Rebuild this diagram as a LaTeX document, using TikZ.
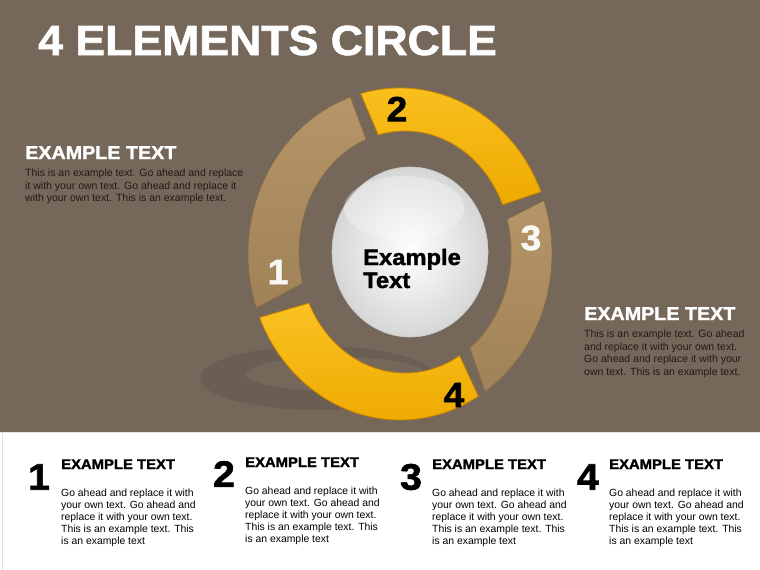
\documentclass[tikz,border=0pt]{standalone}
\usepackage{fontspec}
\setmainfont{Liberation Sans}
\newfontfamily\heavyfont[FakeBold=1.6, FakeStretch=1.06]{Liberation Sans Bold}
\usetikzlibrary{positioning,calc}

\definecolor{bgbrown}{RGB}{117,103,90}
\definecolor{txtdark}{RGB}{33,27,22}
\definecolor{tanbase}{RGB}{160,130,88}
\definecolor{tanlight}{RGB}{182,150,104}
\definecolor{tanedge}{RGB}{135,108,72}
\definecolor{goldbase}{RGB}{238,170,0}
\definecolor{goldlight}{RGB}{250,194,34}
\definecolor{goldedge}{RGB}{196,132,0}
\definecolor{panelline}{RGB}{232,226,214}

\begin{document}
\begin{tikzpicture}[x=1pt, y=-1pt,
	tanseg/.style = {top color=tanlight, bottom color=tanbase, draw=tanedge, line width=0.8pt},
	goldseg/.style = {top color=goldlight, bottom color=goldbase, draw=goldedge, line width=0.8pt},
	title/.style = {inner sep=0, text=white, font=\fontsize{42.1}{48}\heavyfont},
	headw/.style = {inner sep=0, text=white, font=\fontsize{18.6}{20}\heavyfont},
	dbody/.style = {inner sep=0, align=left, text=txtdark, font=\fontsize{10.5}{12.5}\selectfont},
	rnum/.style = {inner sep=0, font=\fontsize{35}{36}\heavyfont},
	ctext/.style = {inner sep=0, text=black, font=\fontsize{22.4}{23}\heavyfont},
	bnum/.style = {inner sep=0, text=black, font=\fontsize{37}{38}\heavyfont},
	bhead/.style = {inner sep=0, text=black, font=\fontsize{14}{15}\heavyfont},
	bbody/.style = {inner sep=0, align=left, text=black, font=\fontsize{10.4}{12}\selectfont}]

	\useasboundingbox (0,0) rectangle (760,570);
	\fill[bgbrown] (0,0) rectangle (760,432);
	\fill[white] (0,432) rectangle (760,570);
	\draw[panelline, line width=1.5pt] (0,432.5) -- (760,432.5);
	\draw[black!12, line width=1pt] (2,433) -- (2,570);

	\node[title, anchor=base west] (ttl) at (38,55) {4 ELEMENTS CIRCLE};

	% shadow of the ring
	\fill[black, opacity=0.09, even odd rule] (318,378) ellipse[x radius=118, y radius=32]
		(336,374) ellipse[x radius=90, y radius=17];

	% ring
	\coordinate (oc) at (400,254);
	\coordinate (ic) at (405,252);
	\draw[tanseg] ($(oc)+(-109:152 and 166)$) arc[start angle=-109, end angle=-199, x radius=152, y radius=166]
		-- ($(ic)+(-195:106 and 121)$) arc[start angle=-195, end angle=-111.5, x radius=106, y radius=121] -- cycle;
	\draw[goldseg] ($(oc)+(-105:152 and 166)$) arc[start angle=-105, end angle=-22, x radius=152, y radius=166]
		-- ($(ic)+(-23:106 and 121)$) arc[start angle=-23, end angle=-104.6, x radius=106, y radius=121] -- cycle;
	\draw[tanseg] ($(oc)+(-18.8:152 and 166)$) arc[start angle=-18.8, end angle=56, x radius=152, y radius=166]
		-- ($(ic)+(52.4:106 and 121)$) arc[start angle=52.4, end angle=-15.7, x radius=106, y radius=121] -- cycle;
	\draw[goldseg] ($(oc)+(-202.5:152 and 166)$) arc[start angle=-202.5, end angle=-301, x radius=152, y radius=166]
		-- ($(ic)+(-301:106 and 121)$) arc[start angle=-301, end angle=-205, x radius=106, y radius=121] -- cycle;

	% centre ball
	\shade[inner color=white, outer color=black!16] (410,252) ellipse[x radius=78, y radius=85];
	\draw[black!22, line width=0.6pt] (410,252) ellipse[x radius=78, y radius=85];
	\fill[white, opacity=0.3] (404,208) ellipse[x radius=60, y radius=32];
	\node[ctext, anchor=base west] (ex1) at (363,265) {Example};
	\node[ctext, below=23pt of ex1.base west, anchor=base west] (ex2) {Text};

	\node[rnum, text=white!92!tanlight] (r1) at (278,272) {1};
	\node[rnum, text=black] (r2) at (397,109) {2};
	\node[rnum, text=white!92!tanlight] (r3) at (531,238) {3};
	\node[rnum, text=black] (r4) at (454,395) {4};

	% side texts
	\node[headw, anchor=base west] (lhead) at (25,159) {EXAMPLE TEXT};
	\node[dbody, below=10pt of lhead.base west, anchor=north west] (lbody)
		{This is an example text. Go ahead and replace\\it with your own text. Go ahead and replace it\\with your own text. This is an example text.};
	\node[headw, anchor=base west] (rhead) at (584,320) {EXAMPLE TEXT};
	\node[dbody, below=10pt of rhead.base west, anchor=north west] (rbody)
		{This is an example text. Go ahead\\and replace it with your own text.\\Go ahead and replace it with your\\own text. This is an example text.};

	% bottom panel
	\node[bnum] (n1) at (39,477) {1};
	\node[bnum] (n2) at (224,474) {2};
	\node[bnum] (n3) at (411,477) {3};
	\node[bnum] (n4) at (588,477) {4};
	\node[bhead, anchor=base west] (h1) at (61,469) {EXAMPLE TEXT};
	\node[bhead, anchor=base west] (h2) at (245,467) {EXAMPLE TEXT};
	\node[bhead, anchor=base west] (h3) at (432,469) {EXAMPLE TEXT};
	\node[bhead, anchor=base west] (h4) at (609,469) {EXAMPLE TEXT};
	\node[bbody, below=19.5pt of h1.base west, anchor=north west] (b1)
		{Go ahead and replace it with\\your own text. Go ahead and\\replace it with your own text.\\This is an example text. This\\is an example text};
	\node[bbody, below=19.5pt of h2.base west, anchor=north west] (b2)
		{Go ahead and replace it with\\your own text. Go ahead and\\replace it with your own text.\\This is an example text. This\\is an example text};
	\node[bbody, below=19.5pt of h3.base west, anchor=north west] (b3)
		{Go ahead and replace it with\\your own text. Go ahead and\\replace it with your own text.\\This is an example text. This\\is an example text};
	\node[bbody, below=19.5pt of h4.base west, anchor=north west] (b4)
		{Go ahead and replace it with\\your own text. Go ahead and\\replace it with your own text.\\This is an example text. This\\is an example text};
\end{tikzpicture}
\end{document}
